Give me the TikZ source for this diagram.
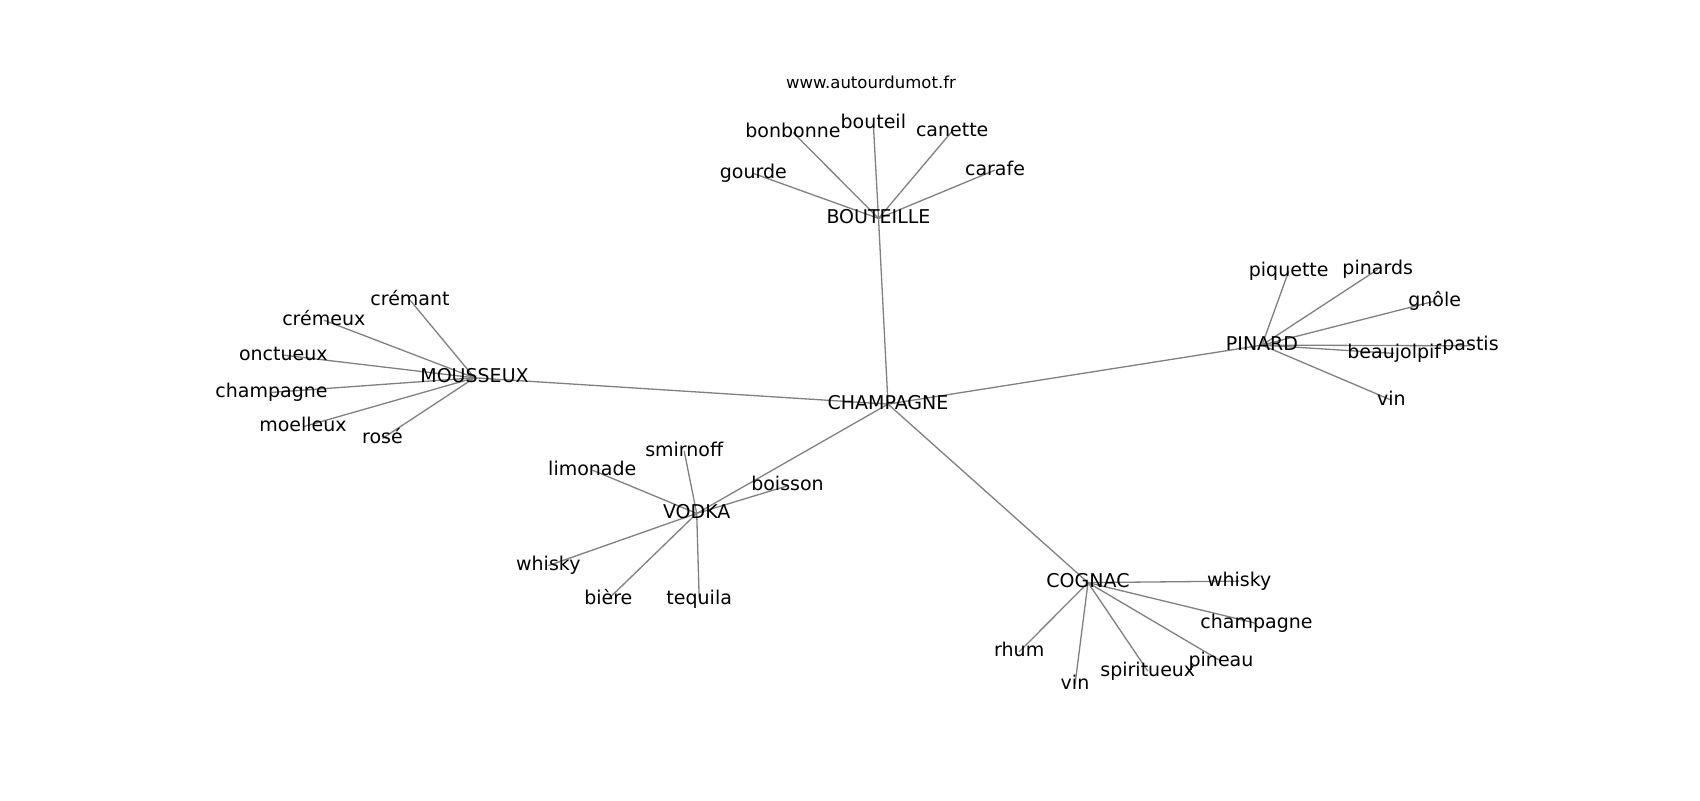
\documentclass[tikz,border=0pt]{standalone}
\usepackage{fontspec}
\setmainfont{DejaVu Sans}
\usetikzlibrary{backgrounds}
\tikzset{
  word/.style={anchor=base, inner sep=0pt, text height=0.73em, text depth=0.24em, font=\fontsize{9.5pt}{11pt}\selectfont},
  titletext/.style={anchor=base, inner sep=0pt, font=\fontsize{8.25pt}{10pt}\selectfont},
  link/.style={draw=black!50, line width=0.65pt}
}
\begin{document}
\begin{tikzpicture}[x=0.5pt,y=-0.5pt]
\useasboundingbox (0,0) rectangle (1700,800);
\node[titletext] (title) at (871,88) {www.autourdumot.fr};
% hubs
\node[word] (champ) at (888,409) {CHAMPAGNE};
\node[word] (bout) at (878.5,223.3) {BOUTEILLE};
\node[word] (mous) at (474.5,382.7) {MOUSSEUX};
\node[word] (pinard) at (1262,350) {PINARD};
\node[word] (vodka) at (696.7,518.3) {VODKA};
\node[word] (cognac) at (1088,587.5) {COGNAC};
% BOUTEILLE
\node[word] (gourde) at (753.3,178.3) {gourde};
\node[word] (bonbonne) at (793,137.3) {bonbonne};
\node[word] (bouteil) at (873.3,128.3) {bouteil};
\node[word] (canette) at (952.2,136) {canette};
\node[word] (carafe) at (995,175) {carafe};
% MOUSSEUX
\node[word] (cremant) at (410,305) {crémant};
\node[word] (cremeux) at (323.8,325) {crémeux};
\node[word] (onctueux) at (283.3,360) {onctueux};
\node[word] (champm) at (271.5,397.3) {champagne};
\node[word] (moelleux) at (303,431.7) {moelleux};
\node[word] (rose) at (382.5,443.3) {rosé};
% PINARD
\node[word] (piquette) at (1288.7,276) {piquette};
\node[word] (pinards) at (1377.7,274.3) {pinards};
\node[word] (gnole) at (1434.7,306) {gnôle};
\node[word] (pastis) at (1470.5,350.7) {pastis};
\node[word] (beaujolpif) at (1394.2,358.3) {beaujolpif};
\node[word] (vinp) at (1391.3,405) {vin};
% VODKA
\node[word] (smirnoff) at (684.2,456) {smirnoff};
\node[word] (limonade) at (592.3,475) {limonade};
\node[word] (boisson) at (787.5,490.7) {boisson};
\node[word] (whiskyv) at (548.3,570.5) {whisky};
\node[word] (biere) at (608.3,604) {bière};
\node[word] (tequila) at (699.2,604) {tequila};
% COGNAC
\node[word] (whiskyc) at (1239.2,586) {whisky};
\node[word] (champc) at (1256.5,628.3) {champagne};
\node[word] (pineau) at (1221,666) {pineau};
\node[word] (spiritueux) at (1147.8,676) {spiritueux};
\node[word] (vinc) at (1075,689.3) {vin};
\node[word] (rhum) at (1019.2,656.7) {rhum};
\begin{scope}[on background layer]
\fill[white] (0,0) rectangle (1700,800);
\foreach \a/\b in {champ/bout, champ/mous, champ/pinard, champ/vodka, champ/cognac,
  bout/gourde, bout/bonbonne, bout/bouteil, bout/canette, bout/carafe,
  mous/cremant, mous/cremeux, mous/onctueux, mous/champm, mous/moelleux, mous/rose,
  pinard/piquette, pinard/pinards, pinard/gnole, pinard/pastis, pinard/beaujolpif, pinard/vinp,
  vodka/smirnoff, vodka/limonade, vodka/boisson, vodka/whiskyv, vodka/biere, vodka/tequila,
  cognac/whiskyc, cognac/champc, cognac/pineau, cognac/spiritueux, cognac/vinc, cognac/rhum}
  \draw[link] (\a.center) -- (\b.center);
\end{scope}
\end{tikzpicture}
\end{document}
